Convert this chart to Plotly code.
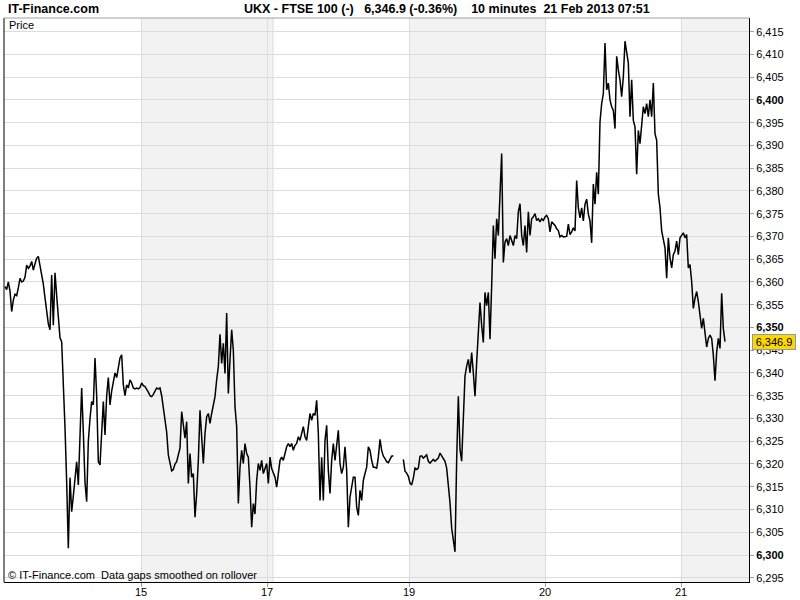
import plotly.graph_objects as go

# ---- data: UKX 10-minute prices, 14-21 Feb 2013 ----
prices_a = [
    6359.0, 6358.3, 6360.0, 6358.0, 6353.5, 6356.0, 6357.3, 6357.0, 6358.7, 6360.8,
    6360.0, 6360.2, 6361.0, 6363.7, 6363.0, 6363.5, 6364.5, 6362.6, 6364.0, 6365.2,
    6365.6, 6363.7, 6361.0, 6359.5, 6356.5, 6353.5, 6350.8, 6349.5, 6361.5, 6350.5,
    6362.0, 6357.0, 6352.0, 6347.7, 6346.9, 6338.5, 6328.0, 6316.0, 6301.5, 6317.0,
    6309.5, 6313.0, 6317.0, 6320.5, 6315.4, 6324.5, 6336.7, 6327.0, 6316.0, 6311.7,
    6325.0, 6330.0, 6333.7, 6333.0, 6343.3, 6335.0, 6320.5, 6319.8, 6327.0, 6333.7,
    6326.4, 6335.0, 6339.0, 6333.0, 6336.0, 6338.0, 6340.0, 6339.0, 6341.0, 6343.3,
    6344.0, 6337.4, 6335.0, 6337.4, 6336.7, 6338.5, 6337.8, 6336.7, 6336.5, 6336.7,
    6336.5, 6336.8, 6337.8, 6337.2, 6337.0, 6336.5, 6335.8, 6335.0, 6334.8, 6335.3,
    6336.0, 6336.7, 6336.5, 6336.7, 6335.0, 6332.3, 6330.4, 6327.0, 6322.0, 6320.3,
    6318.5, 6318.8, 6320.0, 6320.5, 6321.8, 6323.5, 6331.5, 6328.6, 6325.7, 6329.3,
]
prices_b = [
    6315.7, 6322.3, 6317.1, 6317.9, 6308.3, 6313.5, 6320.8, 6331.8, 6325.2, 6320.1,
    6326.7, 6330.4, 6331.1, 6328.9, 6331.1, 6332.6, 6334.8, 6338.5, 6341.4, 6348.5,
    6342.1, 6346.5, 6339.9, 6353.2, 6335.5, 6342.9, 6349.5, 6345.0, 6332.6, 6328.2,
    6311.3, 6319.3, 6323.0, 6320.1, 6324.5, 6322.3, 6321.5, 6314.9, 6306.1, 6311.3,
    6309.0, 6316.4, 6320.1, 6318.6, 6320.8, 6317.9, 6319.3, 6320.1, 6315.7, 6321.5,
    6319.0, 6318.0, 6317.1, 6314.9, 6317.9, 6320.8, 6321.5, 6320.8, 6322.3, 6323.8,
    6324.5, 6323.8, 6324.5, 6323.0, 6324.1, 6324.5, 6326.0, 6325.2, 6326.7, 6328.2,
    6326.0, 6325.2, 6328.2, 6331.1, 6329.6, 6331.1, 6330.7, 6334.0, 6326.7, 6312.0,
    6321.5, 6312.0, 6325.2, 6328.5, 6318.6, 6313.5, 6320.8, 6324.5, 6320.8, 6323.8,
    6327.4, 6320.1, 6317.9, 6319.3, 6323.8, 6318.6, 6306.1, 6312.7, 6314.9, 6317.1,
    6317.1, 6310.5, 6308.7, 6314.2, 6312.0, 6316.4, 6317.9, 6319.3, 6323.8, 6323.0,
    6320.8, 6319.3, 6319.3, 6319.0, 6321.5,
]
prices_c = [
    6325.4, 6323.0, 6321.7, 6321.2, 6320.5, 6320.3, 6321.0, 6321.7, 6321.8, None,
    None, None, None, None, 6321.0, 6318.4, 6318.0, 6317.3, 6315.8, 6315.4,
    6316.9, 6319.1, 6318.8, 6319.1, 6321.7, 6321.8, 6321.3, 6321.7, 6322.0, 6320.6,
    6320.2, 6320.6, 6321.0, 6320.6, 6321.0, 6321.3, 6322.4, 6321.7, 6321.0, 6320.6,
    6319.1, 6315.8, 6311.5, 6305.9, 6303.3, 6300.7, 6321.0, 6334.9, 6323.2, 6320.6,
    6330.0, 6339.3, 6341.5, 6343.0, 6340.0, 6344.5, 6340.0, 6334.9, 6342.3, 6348.9,
    6355.5, 6350.4, 6346.7, 6357.7, 6354.8, 6357.7, 6347.4, 6359.2, 6372.4, 6365.1,
    6373.9, 6370.2, 6377.6, 6388.2, 6364.3, 6368.8, 6369.5, 6368.0, 6370.2, 6368.8,
    6368.0, 6370.2, 6369.5, 6375.4, 6377.2, 6370.2, 6368.0, 6372.4, 6366.5, 6375.4,
    6370.2, 6373.9, 6374.3, 6375.0, 6373.5, 6373.9, 6373.2, 6373.9, 6373.5, 6374.3,
    6374.6, 6373.9, 6371.0, 6373.2, 6372.8, 6372.4, 6371.7, 6371.3, 6369.9, 6370.2,
]
prices_d = [
    6369.9, 6369.9, 6370.0, 6372.7, 6370.4, 6371.0, 6371.9, 6371.2, 6382.3, 6376.3,
    6374.1, 6376.3, 6373.4, 6377.1, 6378.2, 6374.9, 6373.4, 6368.6, 6381.5, 6377.1,
    6384.1, 6379.3, 6395.2, 6399.2, 6401.4, 6412.5, 6402.2, 6403.7, 6400.0, 6398.5,
    6397.7, 6393.7, 6409.6, 6406.6, 6404.4, 6400.7, 6405.1, 6412.9, 6410.3, 6408.1,
    6396.3, 6404.4, 6395.5, 6394.1, 6383.7, 6393.3, 6390.4, 6394.8, 6398.5, 6397.0,
    6399.2, 6396.3, 6400.0, 6396.3, 6403.7, 6392.6, 6391.1, 6379.3, 6376.3, 6371.2,
    6369.0, 6367.5, 6360.8, 6369.7, 6365.3, 6363.1, 6366.0, 6366.8, 6369.0, 6366.0,
    6369.7, 6370.4, 6370.8, 6369.7, 6370.4, 6363.1, 6363.8, 6360.1, 6354.2, 6356.4,
    6357.9, 6355.7, 6352.7, 6349.8, 6352.0, 6348.3, 6345.7, 6347.6, 6348.3, 6347.6,
    6343.9, 6338.3, 6344.6, 6347.6, 6345.4, 6357.5, 6349.8, 6346.9,
]
prices = prices_a + prices_b + prices_c + prices_d
samples = list(range(len(prices)))

day_ticks = [81.6, 157.2, 242.4, 324.0, 405.6]
day_labels = ["15", "17", "19", "20", "21"]
shaded_days = [(81.6, 160.8), (242.4, 324.0), (405.6, 447.0)]
x_range = [-0.6, 446.4]

y_ticks = list(range(6295, 6416, 5))
y_labels = [("<b>%s</b>" % f"{v:,}") if v % 50 == 0 else f"{v:,}" for v in y_ticks]
y_range = [6294.07, 6418.0]

last_price_label = "6,346.9"
last_price = 6346.9
title = "UKX - FTSE 100 (-)   6,346.9 (-0.36%)    10 minutes  21 Feb 2013 07:51"

FONT = "Liberation Sans, Arial, sans-serif"
NARROW = "Liberation Sans Narrow, Arial Narrow, Liberation Sans, sans-serif"

fig = go.Figure()
fig.add_trace(go.Scatter(
    x=samples, y=prices, mode="lines",
    line=dict(color="#000000", width=1.5),
    connectgaps=False, hoverinfo="skip", showlegend=False,
))

shapes = []
for a, b in shaded_days:
    shapes.append(dict(type="rect", xref="x", yref="paper", x0=a, x1=b, y0=0, y1=1,
                       fillcolor="#f2f2f2", line=dict(width=0), layer="below"))
shapes.append(dict(type="line", xref="x", yref="paper", x0=160.8, x1=160.8, y0=0, y1=1,
                   line=dict(color="#dcdcdc", width=1), layer="below"))
shapes.append(dict(type="line", xref="paper", yref="paper", x0=0, x1=0, y0=0, y1=1,
                   line=dict(color="#000000", width=1)))
shapes.append(dict(type="line", xref="paper", yref="paper", x0=0, x1=1, y0=1, y1=1,
                   line=dict(color="#a0a0a0", width=1)))

annotations = [
    dict(text="<b>IT-Finance.com</b>", xref="paper", yref="paper", x=0, y=1.016,
         xanchor="left", yanchor="middle", xshift=2, showarrow=False,
         font=dict(family=NARROW, size=12.5, color="#000000")),
    dict(text="<b>" + title + "</b>", xref="paper", yref="paper", x=0.595, y=1.016,
         xanchor="center", yanchor="middle", showarrow=False,
         font=dict(family=NARROW, size=12.5, color="#000000")),
    dict(text="Price", xref="paper", yref="paper", x=0, y=0.988,
         xanchor="left", yanchor="middle", xshift=3, showarrow=False,
         font=dict(family=FONT, size=11, color="#000000")),
    dict(text="© IT-Finance.com  Data gaps smoothed on rollover", xref="paper", yref="paper",
         x=0, y=0.012, xanchor="left", yanchor="middle", xshift=2, showarrow=False,
         font=dict(family=FONT, size=11, color="#000000")),
    dict(text=last_price_label, xref="paper", yref="y", x=1, y=last_price,
         xanchor="left", yanchor="middle", xshift=3, showarrow=False, width=40,
         bgcolor="#ffd700", bordercolor="#8a9bb0", borderwidth=1, borderpad=1,
         font=dict(family=FONT, size=11, color="#000000")),
]
for tv, tl in zip(day_ticks, day_labels):
    annotations.append(dict(text=tl, xref="x", yref="paper", x=tv, y=0,
                            xanchor="center", yanchor="middle", yshift=-10,
                            showarrow=False,
                            font=dict(family=FONT, size=11, color="#000000")))

fig.update_layout(
    width=800, height=600,
    margin=dict(l=4, r=51, t=18, b=18, pad=0, autoexpand=False),
    paper_bgcolor="#ffffff", plot_bgcolor="#ffffff",
    shapes=shapes, annotations=annotations,
    font=dict(family=FONT, size=11, color="#000000"),
    xaxis=dict(range=x_range, tickvals=day_ticks, ticktext=day_labels,
               showticklabels=False,
               showgrid=True, gridcolor="#dcdcdc", gridwidth=1, zeroline=False,
               showline=True, linecolor="#000000", linewidth=1,
               ticks="outside", ticklen=4, tickcolor="#a0a0a0"),
    yaxis=dict(range=y_range, side="right", tickvals=y_ticks, ticktext=y_labels,
               showgrid=True, gridcolor="#dcdcdc", gridwidth=1, zeroline=False,
               showline=True, linecolor="#000000", linewidth=1,
               ticks="outside", ticklen=4, tickcolor="#a0a0a0",
               tickfont=dict(family=FONT, size=11, color="#000000")),
)

fig.write_html("out.html",
               config={"displayModeBar": False, "staticPlot": True},
               post_script="document.body.style.margin='0';document.body.style.padding='0';"
                           "document.documentElement.style.overflow='hidden';")
